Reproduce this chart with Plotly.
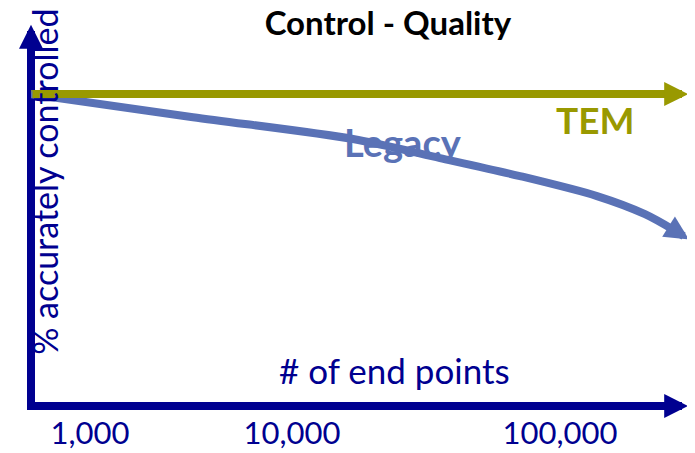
import plotly.graph_objects as go

# ---- data ----
tick_labels = ["1,000", "10,000", "100,000"]
tick_pos = [0.59, 2.61, 5.29]
tem_x = [0, 6.62]
tem_y = [100, 100]
legacy_x = [0, 1.62, 3.22, 4.09, 4.89, 5.66, 6.14, 6.43, 6.62]
legacy_y = [100, 92.6, 85.6, 79.5, 73.7, 67.3, 61.5, 56.4, 52.6]

NAVY = "#000090"
OLIVE = "#999900"
BLUE = "#5A72B6"
FONT = "Lato"
HEAD_SCALE = 0.6 * 8  # arrowsize * arrowwidth

fig = go.Figure()
fig.add_trace(go.Scatter(x=tem_x[:-1] + [tem_x[-1] - 0.2], y=tem_y, mode="lines",
                         line=dict(color=OLIVE, width=8), hoverinfo="skip"))
fig.add_trace(go.Scatter(x=legacy_x[:-1], y=legacy_y[:-1], mode="lines",
                         line=dict(color=BLUE, width=8, shape="spline", smoothing=0.8),
                         hoverinfo="skip"))

head = dict(showarrow=True, text="", arrowhead=2, arrowsize=0.6, arrowwidth=8,
            axref="x", ayref="y", xref="x", yref="y", standoff=HEAD_SCALE)
fig.add_annotation(x=tem_x[-1], y=tem_y[-1], ax=tem_x[-2], ay=tem_y[-2],
                   arrowcolor=OLIVE, **head)
fig.add_annotation(x=legacy_x[-1], y=legacy_y[-1], ax=legacy_x[-2], ay=legacy_y[-2],
                   arrowcolor=BLUE, **head)

# axis lines (below traces)
fig.add_shape(type="line", xref="paper", yref="paper", x0=0, x1=0, y0=-0.01, y1=0.92,
              line=dict(color=NAVY, width=8), layer="below")
fig.add_shape(type="line", xref="paper", yref="paper", x0=-0.006, x1=0.96, y0=0, y1=0,
              line=dict(color=NAVY, width=8), layer="below")
# axis arrow heads
ah = dict(showarrow=True, text="", arrowhead=2, arrowsize=0.6, arrowwidth=8,
          arrowcolor=NAVY, xref="paper", yref="paper", standoff=HEAD_SCALE)
fig.add_annotation(x=0, y=0.97, ax=0, ay=40, **ah)
fig.add_annotation(x=0.997, y=0, ax=-40, ay=0, **ah)

# labels
fig.add_annotation(x=3.72, y=84.6, text="<b>Legacy</b>", showarrow=False,
                   font=dict(family=FONT, size=38, color=BLUE), xref="x", yref="y")
fig.add_annotation(x=5.64, y=92, text="<b>TEM</b>", showarrow=False,
                   font=dict(family=FONT, size=37, color=OLIVE), xref="x", yref="y")
fig.add_annotation(x=0.548, y=0.0905, text="# of end points",
                   showarrow=False, xref="paper", yref="paper",
                   xanchor="center", yanchor="middle",
                   font=dict(family=FONT, size=35, color=NAVY))
fig.add_annotation(x=0.021, y=0.563, text="% accurately controlled",
                   showarrow=False, xref="paper", yref="paper", textangle=-90,
                   xanchor="center", yanchor="middle",
                   font=dict(family=FONT, size=34, color=NAVY))

fig.update_layout(
    width=687, height=445,
    margin=dict(l=23, r=0, t=0, b=47),
    paper_bgcolor="white", plot_bgcolor="white",
    showlegend=False,
    title=dict(text="<b>Control - Quality</b>", x=0.553, xanchor="center",
               yref="container", y=1 - 4 / 445, yanchor="top",
               font=dict(family=FONT, size=33, color="black")),
    xaxis=dict(range=[0, 6.64], showgrid=False, zeroline=False, showline=False,
               tickvals=tick_pos, ticktext=tick_labels, ticks="",
               ticklabelstandoff=6, automargin=False,
               tickfont=dict(family=FONT, size=31, color=NAVY)),
    yaxis=dict(range=[0, 127.6], showgrid=False, zeroline=False, showline=False,
               showticklabels=False, ticks="", automargin=False),
)
fig.write_html("out.html")
